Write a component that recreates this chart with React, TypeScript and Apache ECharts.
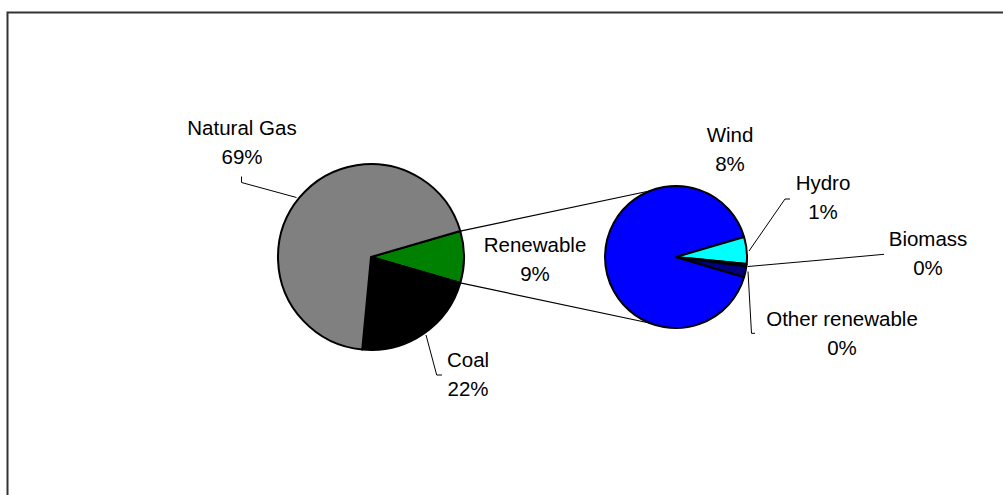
import React, { useEffect, useRef } from "react";
import * as echarts from "echarts";

// Main pie
const mainNames = ["Renewable", "Coal", "Natural Gas"];
const mainValues = [9, 22, 69];
const mainColors = ["#008000", "#000000", "#808080"];

// Secondary pie (breakdown of Renewable, as % of total)
const subNames = ["Wind", "Hydro", "Biomass", "Other renewable"];
const subValues = [8.18, 0.55, 0.05, 0.22];
const subColors = ["#0000FF", "#00FFFF", "#000080", "#000080"];

// Layout constants
const W = 1003;
const H = 495;
const MAIN_C = [371, 257];
const MAIN_R = 93;
const SUB_C = [676, 257];
const SUB_R = 71;
const FONT = "'Liberation Sans', Arial, sans-serif";

// Label placements (block centre) and leader lines
const mainLabelPos: any[] = [
  { x: 535, y: 259, line: null },
  { x: 468, y: 374, line: [[426, 335], [436.7, 375], [442, 375]] },
  { x: 242, y: 141.5, line: [[296.5, 197.5], [241.5, 182.5], [241.5, 176.5]] },
];
const subLabelPos: any[] = [
  { x: 730, y: 148.5, line: null },
  { x: 823, y: 196.7, line: [[749, 251], [785, 199], [790, 199]] },
  { x: 928, y: 252.7, line: [[748, 266.5], [816, 260.5], [884, 254.3]] },
  { x: 842, y: 333.3, line: [[748, 271.5], [751.5, 333.3], [755, 333.3]] },
];

export default function App() {
  const ref = useRef<HTMLDivElement>(null);
  useEffect(() => {
    if (!ref.current) return;
    const chart = echarts.init(ref.current, null, { renderer: "svg" });

    const mainTotal = mainValues.reduce((a, b) => a + b, 0);
    const subTotal = subValues.reduce((a, b) => a + b, 0);
    const renewAngle = (mainValues[0] / mainTotal) * 360;
    const mainStart = renewAngle / 2;
    const windAngle = (subValues[0] / subTotal) * 360;
    const subStart = 180 + windAngle / 2;

    const toRad = (d: number) => (d * Math.PI) / 180;
    const ptMain = (deg: number) => [
      MAIN_C[0] + MAIN_R * Math.cos(toRad(deg)),
      MAIN_C[1] - MAIN_R * Math.sin(toRad(deg)),
    ];
    const connectAngle = 111;
    const ptSub = (deg: number) => [
      SUB_C[0] + SUB_R * Math.cos(toRad(deg)),
      SUB_C[1] - SUB_R * Math.sin(toRad(deg)),
    ];
    const t1 = ptMain(mainStart);
    const b1 = ptMain(-mainStart);
    const t2 = ptSub(connectAngle);
    const b2 = ptSub(-connectAngle);

    const labelBase = {
      show: true,
      position: "outside",
      fontSize: 20.5,
      fontFamily: FONT,
      color: "#000",
      lineHeight: 29,
      align: "center",
      formatter: (p: any) => `${p.name}\n${Math.round(p.value)}%`,
    };

    const mkData = (names: string[], values: number[], colors: string[], pos: any[]) =>
      names.map((n, i) => ({
        name: n,
        value: values[i],
        itemStyle: { color: colors[i] },
        labelLine: { show: !!pos[i].line },
      }));

    const mkLayout = (pos: any[]) => (params: any) => {
      const p = pos[params.dataIndex];
      const out: any = { x: p.x, y: p.y, align: "center", verticalAlign: "middle" };
      if (p.line) out.labelLinePoints = p.line;
      return out;
    };

    chart.setOption({
      animation: false,
      backgroundColor: "#ffffff",
      graphic: [
        {
          type: "rect",
          shape: { x: 7.5, y: 12.5, width: 1010, height: 500 },
          style: { fill: "none", stroke: "#333333", lineWidth: 2 },
          silent: true,
        },
        {
          type: "line",
          shape: { x1: t1[0], y1: t1[1], x2: t2[0], y2: t2[1] },
          style: { stroke: "#000", lineWidth: 1.2 },
          z: 0,
        },
        {
          type: "line",
          shape: { x1: b1[0], y1: b1[1], x2: b2[0], y2: b2[1] },
          style: { stroke: "#000", lineWidth: 1.2 },
          z: 0,
        },
      ],
      series: [
        {
          type: "pie",
          center: MAIN_C,
          radius: MAIN_R,
          startAngle: mainStart,
          clockwise: true,
          avoidLabelOverlap: false,
          itemStyle: { borderColor: "#000", borderWidth: 2 },
          label: labelBase,
          labelLine: { show: true, length: 10, length2: 10, lineStyle: { color: "#000", width: 1 } },
          labelLayout: mkLayout(mainLabelPos),
          emphasis: { disabled: true },
          data: mkData(mainNames, mainValues, mainColors, mainLabelPos),
          z: 2,
        },
        {
          type: "pie",
          center: SUB_C,
          radius: SUB_R,
          startAngle: subStart,
          clockwise: true,
          avoidLabelOverlap: false,
          minAngle: 0,
          itemStyle: { borderColor: "#000", borderWidth: 2 },
          label: labelBase,
          labelLine: { show: true, length: 10, length2: 10, lineStyle: { color: "#000", width: 1 } },
          labelLayout: mkLayout(subLabelPos),
          emphasis: { disabled: true },
          data: mkData(subNames, subValues, subColors, subLabelPos),
          z: 2,
        },
      ],
    });
    return () => chart.dispose();
  }, []);

  return (
    <div
      ref={ref}
      style={{ position: "fixed", left: 0, top: 0, width: W, height: H, background: "#fff" }}
    />
  );
}
